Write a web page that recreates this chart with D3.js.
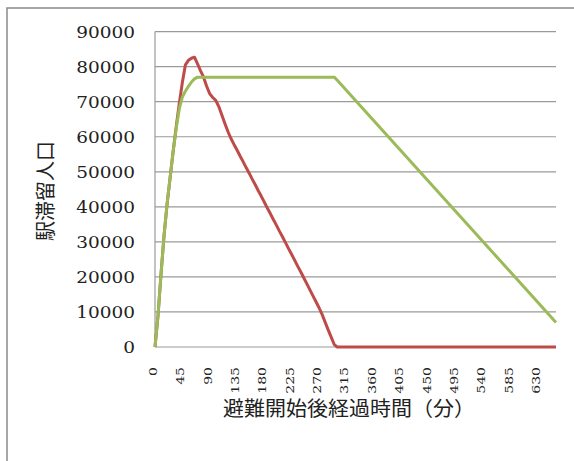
<!DOCTYPE html>
<html>
<head>
<meta charset="utf-8">
<script src="https://cdn.jsdelivr.net/npm/d3@7"></script>
<style>
  html, body { margin: 0; padding: 0; background: #fff; }
  svg { display: block; }
  .num { font-family: "DejaVu Serif", serif; fill: #222; }
  .ttl { font-family: "Noto Sans CJK JP", sans-serif; fill: #222; }
</style>
</head>
<body>
<svg id="chart" width="574" height="461"></svg>
<script>
// Elapsed time since evacuation start (minutes)
const minutes = [
  0, 5, 10, 15, 20, 25, 30, 35, 40, 45, 50, 55, 60, 65, 70, 75, 80, 85, 90, 95,
  100, 105, 110, 115, 120, 125, 130, 135, 140, 145, 150, 155, 160, 165, 170, 175,
  180, 185, 190, 195, 200, 205, 210, 215, 220, 225, 230, 235, 240, 245, 250, 255,
  260, 265, 270, 275, 280, 285, 290, 295, 300, 660
];

// Station stranded population, series 1 (red)
const redValues = [
  0, 9000, 21000, 32000, 41000, 48500, 56000, 63000, 69500, 75500, 80500, 81800, 82400, 82700, 80800, 78800, 77000, 74400, 72300, 71200,
  70400, 68600, 66200, 63800, 61500, 59500, 57800, 56200, 54500, 52900, 51200, 49600, 47900, 46300, 44600, 43000,
  41300, 39600, 38000, 36300, 34700, 33000, 31400, 29700, 28000, 26400, 24700, 23000, 21400, 19700, 18000, 16300,
  14600, 12900, 11200, 9300, 7100, 4900, 2800, 700, 0, 0
];

// Station stranded population, series 2 (green)
const greenValues = [
  0, 9000, 21000, 32000, 41000, 48500, 56000, 62500, 68000, 71300, 73000, 74400, 75600, 76500, 77000, 77000, 77000, 77000, 77000, 77000,
  77000, 77000, 77000, 77000, 77000, 77000, 77000, 77000, 77000, 77000, 77000, 77000, 77000, 77000, 77000, 77000,
  77000, 77000, 77000, 77000, 77000, 77000, 77000, 77000, 77000, 77000, 77000, 77000, 77000, 77000, 77000, 77000,
  77000, 77000, 77000, 77000, 77000, 77000, 77000, 77000, 76100, 7000
];

const xTickValues = [0, 45, 90, 135, 180, 225, 270, 315, 360, 405, 450, 495, 540, 585, 630];
const yTickValues = [0, 10000, 20000, 30000, 40000, 50000, 60000, 70000, 80000, 90000];

const xTitle = "避難開始後経過時間（分）";
const yTitle = "駅滞留人口";

const svg = d3.select("#chart");

// Outer chart frame
svg.append("rect")
  .attr("x", 7).attr("y", 8)
  .attr("width", 600).attr("height", 500)
  .attr("fill", "#fff")
  .attr("stroke", "#8a8a8a")
  .attr("stroke-width", 1.5);

const plot = { left: 155, right: 556, top: 31.6, bottom: 347 };

const x = d3.scaleLinear().domain([0, 660]).range([plot.left, plot.right]);
const y = d3.scaleLinear().domain([0, 90000]).range([plot.bottom, plot.top]);

// Horizontal gridlines
svg.append("g")
  .selectAll("line")
  .data(yTickValues)
  .join("line")
  .attr("x1", plot.left).attr("x2", plot.right)
  .attr("y1", d => y(d)).attr("y2", d => y(d))
  .attr("stroke", "#9a9a9a")
  .attr("stroke-width", 1.2);

// Vertical value axis line
svg.append("line")
  .attr("x1", plot.left).attr("x2", plot.left)
  .attr("y1", y(90000)).attr("y2", y(0))
  .attr("stroke", "#9a9a9a")
  .attr("stroke-width", 1.2);

// Value axis labels: wide serif digits
const fmt = d3.format("d");
svg.append("g")
  .selectAll("g")
  .data(yTickValues)
  .join("g")
  .attr("transform", d => `translate(135,${y(d)})`)
  .append("text")
  .attr("class", "num")
  .attr("transform", "scale(1.1,1)")
  .attr("text-anchor", "end")
  .attr("dy", "0.36em")
  .style("font-size", "16.8px")
  .text(d => fmt(d));

// Time axis labels, rotated to read upward
svg.append("g")
  .selectAll("g")
  .data(xTickValues)
  .join("g")
  .attr("transform", d => `translate(${x(d) - 2},367)`)
  .append("g")
  .attr("transform", "rotate(-90)")
  .append("text")
  .attr("class", "num")
  .attr("transform", "scale(1.23,1)")
  .attr("text-anchor", "end")
  .attr("dy", "0.36em")
  .style("font-size", "11.4px")
  .text(d => d);

// Series lines
const line = d3.line()
  .x((d, i) => x(minutes[i]))
  .y(d => y(d));

svg.append("path")
  .datum(redValues)
  .attr("d", line)
  .attr("fill", "none")
  .attr("stroke", "#be4b48")
  .attr("stroke-width", 3)
  .attr("stroke-linejoin", "round");

svg.append("path")
  .datum(greenValues)
  .attr("d", line)
  .attr("fill", "none")
  .attr("stroke", "#9bbb59")
  .attr("stroke-width", 3)
  .attr("stroke-linejoin", "round");

// Axis titles
svg.append("g")
  .attr("transform", "translate(349,409)")
  .append("text")
  .attr("class", "ttl")
  .attr("transform", "scale(1.05,1)")
  .attr("text-anchor", "middle")
  .attr("dy", "0.35em")
  .style("font-size", "20px")
  .text(xTitle);

svg.append("g")
  .attr("transform", "translate(46,191)")
  .append("text")
  .attr("class", "ttl")
  .attr("transform", "rotate(-90)")
  .attr("text-anchor", "middle")
  .attr("dy", "0.35em")
  .style("font-size", "20px")
  .text(yTitle);
</script>
</body>
</html>
